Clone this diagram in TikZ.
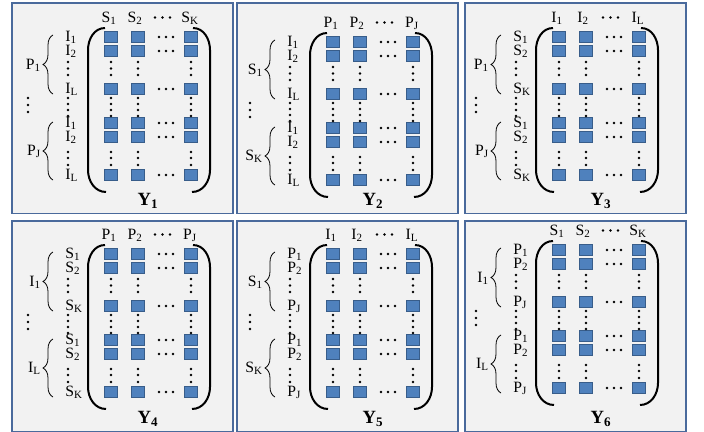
\documentclass[tikz,border=0pt]{standalone}
\usepackage{fontspec}
\setmainfont{Liberation Serif}
\usetikzlibrary{decorations.pathreplacing}
\definecolor{cellfill}{HTML}{4F81BD}
\definecolor{celledge}{HTML}{385D8A}
\definecolor{paneledge}{HTML}{4A6A9C}
\definecolor{panelfill}{HTML}{F2F2F2}
\tikzset{
  panel/.style={draw=paneledge,fill=panelfill,line width=1.1pt},
  cell/.style={draw=celledge,fill=cellfill,line width=0.7pt,minimum width=9.3pt,minimum height=8.4pt,inner sep=0pt},
  lbl/.style={inner sep=0pt,font=\fontsize{11.8}{14}\selectfont},
  ylbl/.style={inner sep=0pt,font=\fontsize{14}{16}\selectfont\bfseries},
  paren/.style={line width=1.5pt},
  grpbrace/.style={decorate,decoration={brace,amplitude=7.5pt},line width=0.6pt},
}
\begin{document}
\begin{tikzpicture}[x=0.75pt,y=-0.75pt]
  \useasboundingbox (0,0) rectangle (704,432);
  % panel no / origin / shift of content / column, row and group letters
  \foreach \n/\ox/\oy/\dx/\dy/\cn/\ck/\rn/\rk/\gn/\gk in {
      1/12/3/0/0/S/K/I/L/P/J,
      2/237/3/-3/5/P/J/I/L/S/K,
      3/465/3/-5/0/I/L/S/K/P/J,
      4/12/221/0/-1/P/J/S/K/I/L,
      5/237/221/-3/-1/I/L/P/J/S/K,
      6/465/221/-5/-5/S/K/P/J/I/L}{
   \begin{scope}[shift={(\ox,\oy)}]
    \draw[panel] (0,0) rectangle (221,210.5);
    \node[ylbl] (y\n) at (136,198) {Y\textsubscript{\n}};
    \begin{scope}[shift={(\dx,\dy)}]
     % brackets
     \draw[paren] (93,25) to[out=180,in=90] (76,47) -- (76,167) to[out=-90,in=180] (94,189);
     \draw[paren] (181,25) to[out=0,in=90] (198,47) -- (198,167) to[out=-90,in=0] (180,189);
     % column heads
     \node[lbl,anchor=base] (h\n-1) at (97,19) {\cn\textsubscript{1}};
     \node[lbl,anchor=base] (h\n-2) at (123,19) {\cn\textsubscript{2}};
     \node[lbl,anchor=base] (h\n-3) at (178,19) {\cn\textsubscript{\ck}};
     \foreach \x in {143,150.5,158} \fill (\x,14.5) circle (1pt);
     % rows of cells
     \foreach \row/\y/\sub in {1/34/1,2/48/2,3/86/\rk,4/120/1,5/134/2,6/172/\rk}{
       \foreach \col/\x in {1/99,2/126,3/179} \node[cell] (m\n-\row\col) at (\x,\y) {};
       \foreach \x in {147,154,161} \fill (\x,\y) circle (1pt);
       \node[lbl,anchor=base west] (r\n-\row) at (53,\y+4.5) {\rn\textsubscript{\sub}};
     }
     \foreach \x in {56,99,126,179}
       \foreach \y in {59,65.5,72,95,101,107,113,149,155,162} \fill (\x,\y) circle (0.95pt);
     % groups
     \draw[grpbrace] (41,91) -- (41,32);
     \node[lbl,anchor=base east] (g\n-1) at (29,66) {\gn\textsubscript{1}};
     \draw[grpbrace] (41,177) -- (41,119);
     \node[lbl,anchor=base east] (g\n-2) at (29,152.5) {\gn\textsubscript{\gk}};
     \foreach \y in {95,102,109} \fill (16,\y) circle (1pt);
    \end{scope}
   \end{scope}
  }
\end{tikzpicture}
\end{document}
